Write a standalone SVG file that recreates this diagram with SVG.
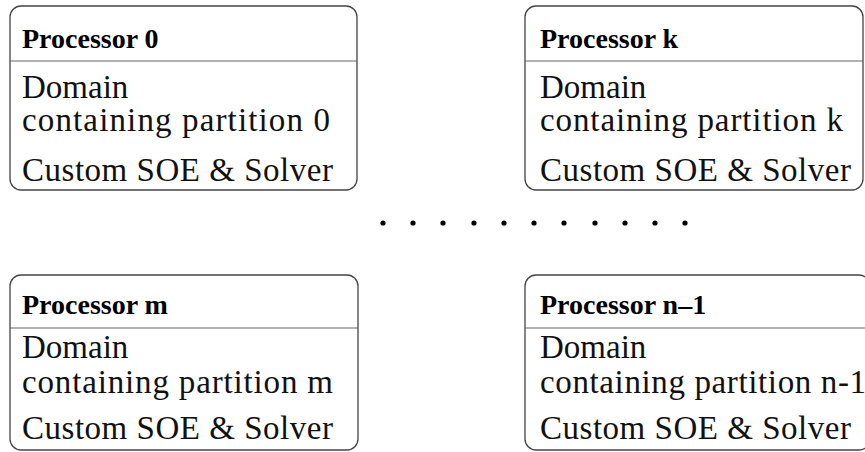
<svg xmlns="http://www.w3.org/2000/svg" width="865" height="452" viewBox="0 0 865 452">
  <style>
    .box { fill: #ffffff; stroke: #444444; stroke-width: 1.3; }
    .sep { stroke: #666666; stroke-width: 1.2; }
    .head { font-family: "Liberation Serif", "Times New Roman", serif; font-weight: bold; font-size: 28px; fill: #000000; }
    .body { font-family: "Liberation Serif", "Times New Roman", serif; font-size: 33px; fill: #111111; }
    .dot { fill: #000000; }
  </style>
  <rect width="865" height="452" fill="#ffffff"/>

  <!-- Processor 0 -->
  <g id="processor-0">
    <rect class="box" x="10" y="6" width="347" height="184" rx="11"/>
    <line class="sep" x1="10" y1="61" x2="357" y2="61"/>
    <text class="head" x="22" y="48">Processor 0</text>
    <text class="body" x="22" y="98">Domain</text>
    <text class="body" x="22" y="131" textLength="308" lengthAdjust="spacing">containing partition 0</text>
    <text class="body" x="22" y="181" textLength="311" lengthAdjust="spacing">Custom SOE &amp; Solver</text>
  </g>

  <!-- Processor k -->
  <g id="processor-k">
    <rect class="box" x="525" y="6" width="338" height="184" rx="11"/>
    <line class="sep" x1="525" y1="61" x2="863" y2="61"/>
    <text class="head" x="540" y="48">Processor k</text>
    <text class="body" x="540" y="98">Domain</text>
    <text class="body" x="540" y="131" textLength="303" lengthAdjust="spacing">containing partition k</text>
    <text class="body" x="540" y="181" textLength="311" lengthAdjust="spacing">Custom SOE &amp; Solver</text>
  </g>

  <!-- Processor m -->
  <g id="processor-m">
    <rect class="box" x="10" y="275" width="348" height="175" rx="11"/>
    <line class="sep" x1="10" y1="328" x2="358" y2="328"/>
    <text class="head" x="22" y="314">Processor m</text>
    <text class="body" x="22" y="358">Domain</text>
    <text class="body" x="22" y="393" textLength="311" lengthAdjust="spacing">containing partition m</text>
    <text class="body" x="22" y="439" textLength="311" lengthAdjust="spacing">Custom SOE &amp; Solver</text>
  </g>

  <!-- Processor n-1 -->
  <g id="processor-n-1">
    <rect class="box" x="525" y="275" width="345" height="175" rx="11"/>
    <line class="sep" x1="525" y1="328" x2="865" y2="328"/>
    <text class="head" x="540" y="314">Processor n–1</text>
    <text class="body" x="540" y="358">Domain</text>
    <text class="body" x="540" y="393" textLength="326" lengthAdjust="spacing">containing partition n-1</text>
    <text class="body" x="540" y="439" textLength="311" lengthAdjust="spacing">Custom SOE &amp; Solver</text>
  </g>

  <!-- ellipsis between the processor rows -->
  <g id="connectors">
    <circle class="dot" cx="383" cy="223" r="2.6"/>
    <circle class="dot" cx="413" cy="223" r="2.6"/>
    <circle class="dot" cx="443" cy="223" r="2.6"/>
    <circle class="dot" cx="474" cy="223" r="2.6"/>
    <circle class="dot" cx="504" cy="223" r="2.6"/>
    <circle class="dot" cx="534" cy="223" r="2.6"/>
    <circle class="dot" cx="564" cy="223" r="2.6"/>
    <circle class="dot" cx="595" cy="223" r="2.6"/>
    <circle class="dot" cx="625" cy="223" r="2.6"/>
    <circle class="dot" cx="655" cy="223" r="2.6"/>
    <circle class="dot" cx="685" cy="223" r="2.6"/>
  </g>
</svg>
